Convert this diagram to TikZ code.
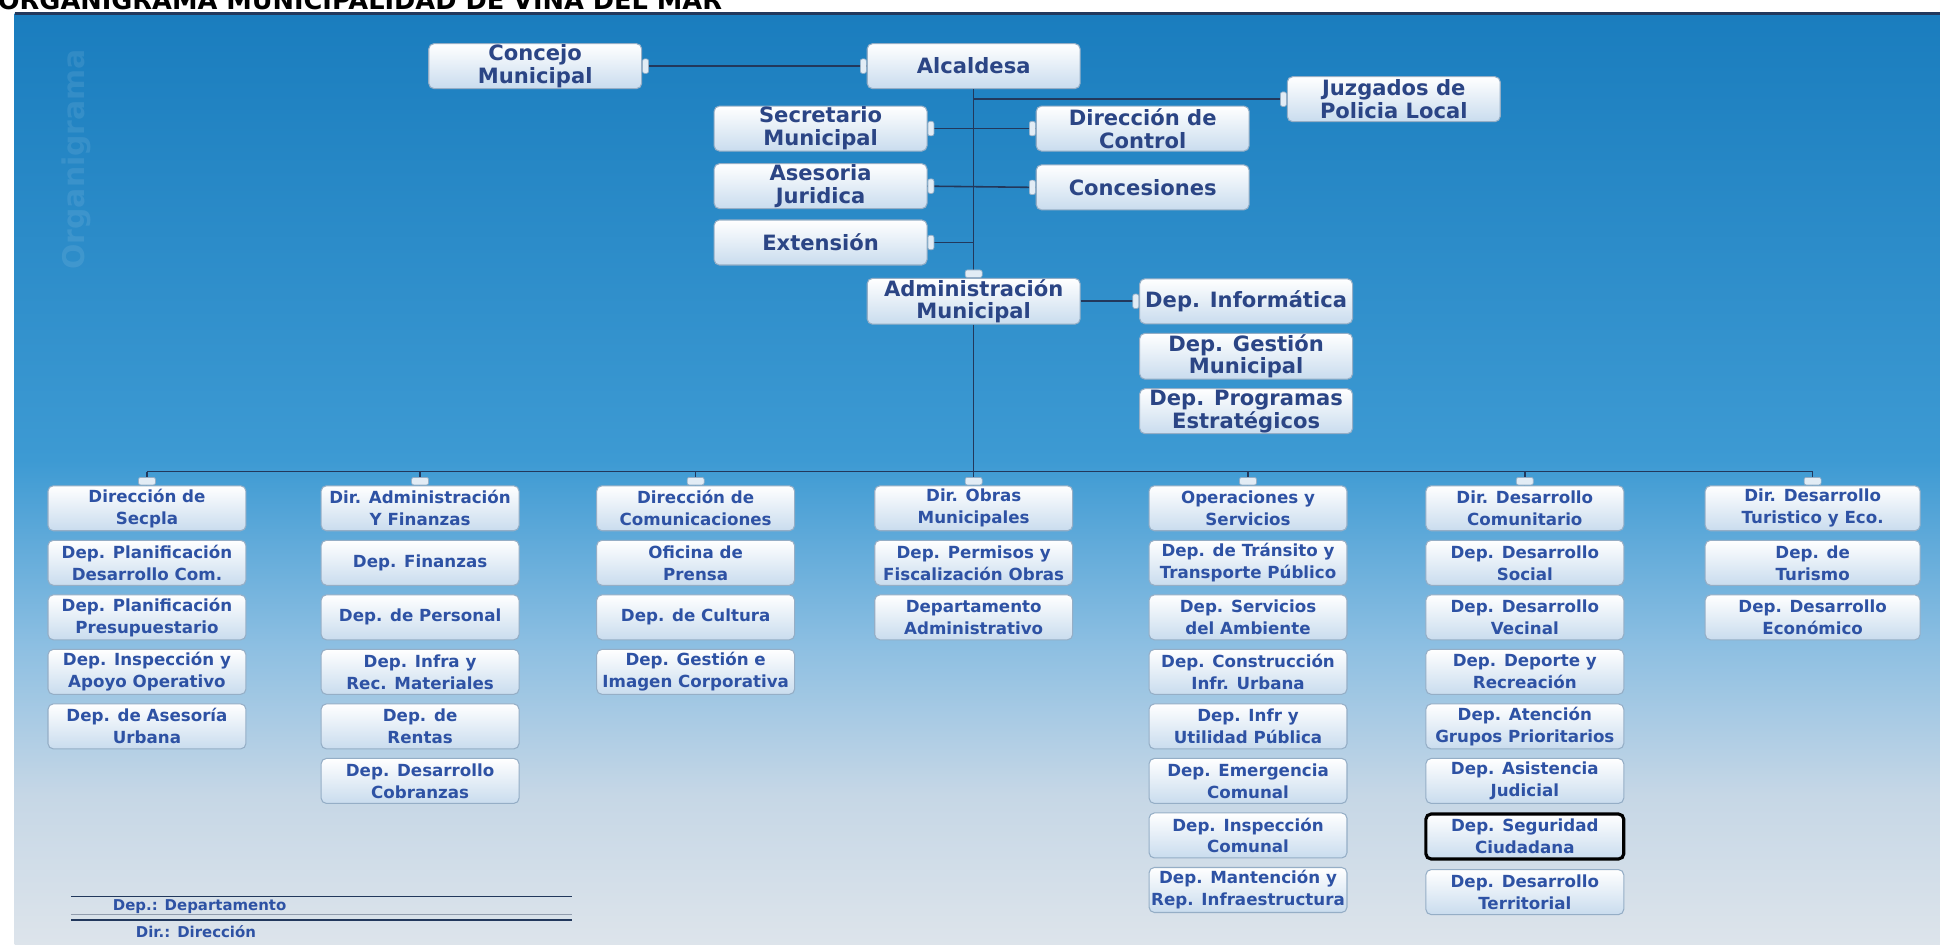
\documentclass[tikz,border=0pt]{standalone}
\usepackage{fontspec}
\setmainfont{DejaVu Sans}
\usetikzlibrary{positioning}

\definecolor{panelA}{HTML}{1A7DBE}
\definecolor{panelB}{HTML}{3D9AD3}
\definecolor{panelC}{HTML}{8DBFE2}
\definecolor{panelD}{HTML}{C6D7E6}
\definecolor{panelE}{HTML}{DDE4EB}
\definecolor{boxline}{HTML}{95AEC6}
\definecolor{boxlow}{HTML}{C9DCEE}
\definecolor{nubfill}{HTML}{E2ECF5}
\definecolor{wire}{HTML}{22385C}
\definecolor{inkA}{HTML}{2B4585}
\definecolor{inkB}{HTML}{2E52A4}

\pgfdeclareverticalshading{panelfade}{100bp}{color(0bp)=(panelE); color(25bp)=(panelE); color(33bp)=(panelD); color(41bp)=(panelC); color(51bp)=(panelB); color(75bp)=(panelA); color(100bp)=(panelA)}

\newcommand{\topfont}{\fontsize{12}{13}\selectfont\bfseries}
\newcommand{\depfont}{\fontsize{9.5}{12.5}\selectfont\bfseries}

\begin{document}
\begin{tikzpicture}[x=0.0245cm, y=-0.0245cm, node distance=0.17cm,
    box/.style={draw=boxline, line width=0.6pt, rounded corners=3pt, top color=white, bottom color=boxlow, align=center, inner sep=0.5pt},
    upbox/.style={box, text=inkA, font=\topfont, minimum width=4.26cm, minimum height=0.9cm},
    dep/.style={box, text=inkB, font=\depfont, minimum width=3.96cm, minimum height=0.9cm},
    depwide/.style={dep, minimum width=4.3cm},
    sidenub/.style={fill=nubfill, draw=boxline, line width=0.4pt, rounded corners=1.2pt, minimum width=0.12cm, minimum height=0.29cm, inner sep=0pt},
    topnub/.style={sidenub, minimum width=0.34cm, minimum height=0.15cm},
    conn/.style={draw=wire, line width=0.9pt},
    legend/.style={text=inkB, font=\fontsize{8.5}{9}\selectfont\bfseries, inner sep=0pt}]

    % page and background panel
    \path[use as bounding box] (0,0) rectangle (1584,771);
    \clip (0,0) rectangle (1584,771);
    \fill[white] (0,0) rectangle (1584,771);
    \node[anchor=base west, font=\fontsize{14.6}{15}\selectfont\bfseries, inner sep=0pt] (title) at (-2,8) {ORGANIGRAMA MUNICIPALIDAD DE VIÑA DEL MAR};
    \shade[shading=panelfade] (12,11) rectangle (1584,771);
    \draw[wire, line width=1.2pt] (12,11) -- (1584,11);
    \node[rotate=90, text=white, opacity=0.09, font=\fontsize{17}{17}\selectfont\bfseries] (wm) at (62,130) {Organigrama};

    % upper level
    \node[upbox] (concejo) at (437,54) {Concejo\\Municipal};
    \node[upbox] (alcaldesa) at (795,54) {Alcaldesa};
    \node[upbox] (juzgados) at (1138,81) {Juzgados de\\Policia Local};
    \node[upbox] (secretario) at (670,105) {Secretario\\Municipal};
    \node[upbox] (control) at (933,105) {Dirección de\\Control};
    \node[upbox] (asesoria) at (670,152) {Asesoria\\Juridica};
    \node[upbox] (concesiones) at (933,153) {Concesiones};
    \node[upbox] (extension) at (670,198) {Extensión};
    \node[upbox] (admin) at (795,246) {Administración\\Municipal};
    \node[upbox, right=1.17cm of admin] (informatica) {Dep. Informática};
    \node[upbox, below=of informatica] (gestion) {Dep. Gestión\\Municipal};
    \node[upbox, below=of gestion] (programas) {Dep. Programas\\Estratégicos};

    % directions (one column each)
    \node[dep] (c1) at (120,415) {Dirección de\\Secpla};
    \node[dep, below=of c1] (c1b) {Dep. Planificación\\Desarrollo Com.};
    \node[dep, below=of c1b] (c1c) {Dep. Planificación\\Presupuestario};
    \node[dep, below=of c1c] (c1d) {Dep. Inspección y\\Apoyo Operativo};
    \node[dep, below=of c1d] (c1e) {Dep. de Asesoría\\Urbana};

    \node[dep] (c2) at (343,415) {Dir. Administración\\Y Finanzas};
    \node[dep, below=of c2] (c2b) {Dep. Finanzas};
    \node[dep, below=of c2b] (c2c) {Dep. de Personal};
    \node[dep, below=of c2c] (c2d) {Dep. Infra y\\Rec. Materiales};
    \node[dep, below=of c2d] (c2e) {Dep. de\\Rentas};
    \node[dep, below=of c2e] (c2f) {Dep. Desarrollo\\Cobranzas};

    \node[dep] (c3) at (568,415) {Dirección de\\Comunicaciones};
    \node[dep, below=of c3] (c3b) {Oficina de\\Prensa};
    \node[dep, below=of c3b] (c3c) {Dep. de Cultura};
    \node[dep, below=of c3c] (c3d) {Dep. Gestión e\\Imagen Corporativa};

    \node[dep] (c4) at (795,415) {Dir. Obras\\Municipales};
    \node[dep, below=of c4] (c4b) {Dep. Permisos y\\Fiscalización Obras};
    \node[dep, below=of c4b] (c4c) {Departamento\\Administrativo};

    \node[dep] (c5) at (1019,415) {Operaciones y\\Servicios};
    \node[dep, below=of c5] (c5b) {Dep. de Tránsito y\\Transporte Público};
    \node[dep, below=of c5b] (c5c) {Dep. Servicios\\del Ambiente};
    \node[dep, below=of c5c] (c5d) {Dep. Construcción\\Infr. Urbana};
    \node[dep, below=of c5d] (c5e) {Dep. Infr y\\Utilidad Pública};
    \node[dep, below=of c5e] (c5f) {Dep. Emergencia\\Comunal};
    \node[dep, below=of c5f] (c5g) {Dep. Inspección\\Comunal};
    \node[dep, below=of c5g] (c5h) {Dep. Mantención y\\Rep. Infraestructura};

    \node[dep] (c6) at (1245,415) {Dir. Desarrollo\\Comunitario};
    \node[dep, below=of c6] (c6b) {Dep. Desarrollo\\Social};
    \node[dep, below=of c6b] (c6c) {Dep. Desarrollo\\Vecinal};
    \node[dep, below=of c6c] (c6d) {Dep. Deporte y\\Recreación};
    \node[dep, below=of c6d] (c6e) {Dep. Atención\\Grupos Prioritarios};
    \node[dep, below=of c6e] (c6f) {Dep. Asistencia\\Judicial};
    \node[dep, below=of c6f, draw=black, line width=1.8pt] (c6g) {Dep. Seguridad\\Ciudadana}; % marked box
    \node[dep, below=of c6g] (c6h) {Dep. Desarrollo\\Territorial};

    \node[depwide] (c7) at (1480,415) {Dir. Desarrollo\\Turistico y Eco.};
    \node[depwide, below=of c7] (c7b) {Dep. de\\Turismo};
    \node[depwide, below=of c7b] (c7c) {Dep. Desarrollo\\Económico};

    % connectors
    \coordinate (bus) at (795,385);
    \draw[conn] (concejo.east) -- (alcaldesa.west);
    \draw[conn] (alcaldesa.south) -- (admin.north);
    \draw[conn] (juzgados.west) -- (juzgados.west -| alcaldesa.south);
    \draw[conn] (secretario.east) -- (control.west);
    \draw[conn] (asesoria.east) -- (concesiones.west);
    \draw[conn] (extension.east) -- (extension.east -| alcaldesa.south);
    \draw[conn] (admin.east) -- (informatica.west);
    \draw[conn] (admin.south) -- (bus);
    \draw[conn] (c1.north |- bus) -- (c7.north |- bus)
        (c1.north) -- (c1.north |- bus)
        (c2.north) -- (c2.north |- bus)
        (c3.north) -- (c3.north |- bus)
        (c4.north) -- (c4.north |- bus)
        (c5.north) -- (c5.north |- bus)
        (c6.north) -- (c6.north |- bus)
        (c7.north) -- (c7.north |- bus);

    % small tabs where the lines meet the boxes
    \node[sidenub, anchor=west] (t1) at (concejo.east) {};
    \node[sidenub, anchor=east] (t2) at (alcaldesa.west) {};
    \node[sidenub, anchor=east] (t3) at (juzgados.west) {};
    \node[sidenub, anchor=west] (t4) at (secretario.east) {};
    \node[sidenub, anchor=east] (t5) at (control.west) {};
    \node[sidenub, anchor=west] (t6) at (asesoria.east) {};
    \node[sidenub, anchor=east] (t7) at (concesiones.west) {};
    \node[sidenub, anchor=west] (t8) at (extension.east) {};
    \node[sidenub, anchor=east] (t9) at (informatica.west) {};
    \node[topnub, anchor=south] (t10) at (admin.north) {};
    \node[topnub, anchor=south] (u1) at (c1.north) {};
    \node[topnub, anchor=south] (u2) at (c2.north) {};
    \node[topnub, anchor=south] (u3) at (c3.north) {};
    \node[topnub, anchor=south] (u4) at (c4.north) {};
    \node[topnub, anchor=south] (u5) at (c5.north) {};
    \node[topnub, anchor=south] (u6) at (c6.north) {};
    \node[topnub, anchor=south] (u7) at (c7.north) {};

    % legend
    \draw[wire, line width=0.9pt] (58,732) -- (467,732);
    \draw[wire!50, line width=0.6pt] (58,747) -- (467,747);
    \draw[wire, line width=0.9pt] (58,751) -- (467,751);
    \node[legend] (legdep) at (163,740) {Dep.: Departamento};
    \node[legend] (legdir) at (160,761) {Dir.: Dirección};
\end{tikzpicture}
\end{document}
